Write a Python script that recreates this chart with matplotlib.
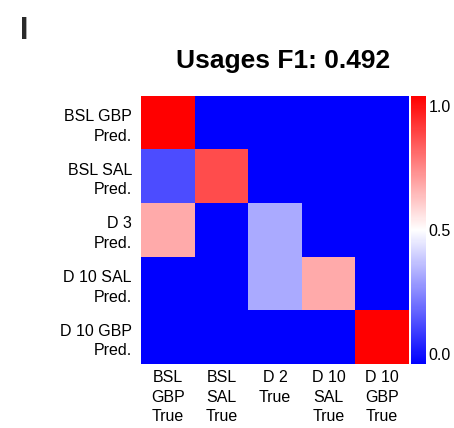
import numpy as np
import matplotlib
matplotlib.use("Agg")
import matplotlib.pyplot as plt

plt.rcParams['font.family'] = ['Liberation Sans', 'DejaVu Sans']

row_labels = ["BSL GBP\nPred.", "BSL SAL\nPred.", "D 3\nPred.", "D 10 SAL\nPred.", "D 10 GBP\nPred."]
col_labels = ["BSL\nGBP\nTrue", "BSL\nSAL\nTrue", "D 2\nTrue", "D 10\nSAL\nTrue", "D 10\nGBP\nTrue"]
row_bsl_gbp = [1.0, 0.0, 0.0, 0.0, 0.0]
row_bsl_sal = [0.15, 0.85, 0.0, 0.0, 0.0]
row_d3 = [0.667, 0.0, 0.333, 0.0, 0.0]
row_d10_sal = [0.0, 0.0, 0.333, 0.667, 0.0]
row_d10_gbp = [0.0, 0.0, 0.0, 0.0, 1.0]
title = "Usages F1: 0.492"
panel = "I"
cbar_ticks = [0.0, 0.5, 1.0]
cbar_ticklabels = ["0.0", "0.5", "1.0"]

data = np.array([row_bsl_gbp, row_bsl_sal, row_d3, row_d10_sal, row_d10_gbp])

W, H = 454, 428
fig = plt.figure(figsize=(W / 100, H / 100), dpi=100)

ax = fig.add_axes([141 / W, 1 - 364 / H, 268 / W, 268 / H])
cax = fig.add_axes([410.7 / W, 1 - 364 / H, 15 / W, 268 / H])

im = ax.imshow(data, cmap="bwr", vmin=0, vmax=1, aspect="auto", interpolation="nearest")
ax.set_xticks(np.arange(len(col_labels)))
ax.set_xticklabels(col_labels, fontsize=11.5, linespacing=1.38)
ax.set_yticks(np.arange(len(row_labels)))
ax.set_yticklabels(row_labels, fontsize=11.5, linespacing=1.38, ha="right")
ax.tick_params(axis="x", length=0, pad=4.5)
ax.tick_params(axis="y", length=0, pad=6.5)
for s in ax.spines.values():
    s.set_visible(False)

cb = fig.colorbar(im, cax=cax)
cb.outline.set_visible(False)
# labels sit slightly inside the bar ends, as in the reference
inset = 0.038
pos = [inset + t * (1 - 2 * inset) for t in cbar_ticks]
cb.set_ticks(pos)
cb.set_ticklabels(cbar_ticklabels)
cax.tick_params(length=0, pad=2, labelsize=11.5)

fig.text(283.5 / W, 1 - 68 / H, title, fontsize=19, fontweight="bold",
         ha="center", va="baseline")
fig.text(19.5 / W, 1 - 39 / H, panel, fontsize=22, fontweight="bold",
         color="#2a2a2a", ha="left", va="baseline")

fig.savefig("out.png", dpi=100)
